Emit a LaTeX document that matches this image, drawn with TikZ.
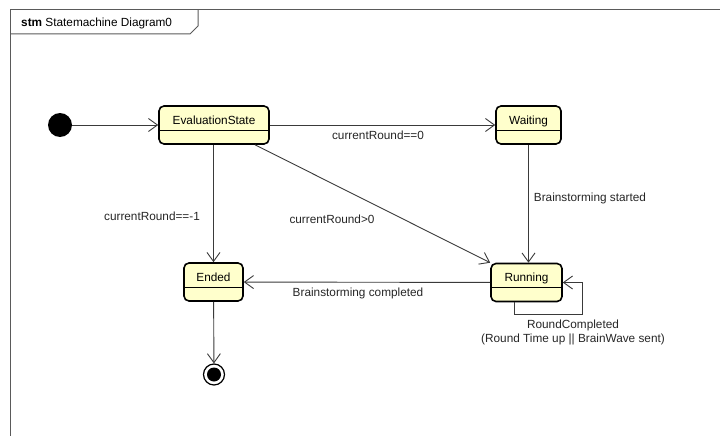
\documentclass[tikz,border=0pt]{standalone}
\usepackage{fontspec}
\setmainfont{Liberation Sans}
\usetikzlibrary{arrows.meta}
\definecolor{statefill}{HTML}{FFFFCC}
\definecolor{framegray}{HTML}{5A5A5A}
\definecolor{edgegray}{HTML}{3A3A3A}

\begin{document}
\begin{tikzpicture}[x=1pt, y=-1pt, font=\fontsize{11.8}{14}\selectfont,
    state/.style={draw=black, line width=1.6pt, fill=statefill, rounded corners=5pt,
        minimum height=38pt, inner sep=0pt, text height=9pt, text depth=11pt,
        path picture={\draw[line width=1pt] ([yshift=-5pt]path picture bounding box.west) -- ([yshift=-5pt]path picture bounding box.east);}},
    tr/.style={draw=edgegray, line width=0.9pt, -{Straight Barb[length=9pt, width=13pt, line width=0.9pt]}},
    lbl/.style={inner sep=1pt, text=black!85}]
    \useasboundingbox (0,0) rectangle (720,436);
    % frame and its tab
    \draw[framegray, line width=1pt] (10,436) -- (10,10) -- (720,10);
    \draw[framegray, line width=1pt] (198,10) -- (198,26) -- (190,34) -- (10,34);
    \node[anchor=west, inner sep=0pt] (title) at (21,23) {\textbf{stm} Statemachine Diagram0};

    \node[circle, fill=black, minimum size=24pt, inner sep=0pt] (start) at (60,125) {};
    \node[state, minimum width=110pt] (eval) at (214,125) {EvaluationState};
    \node[state, minimum width=65pt] (wait) at (528.5,125) {Waiting};
    \node[state, minimum width=59pt] (ended) at (213.5,282) {Ended};
    \node[state, minimum width=71pt] (run) at (526.5,282.5) {Running};
    \node[circle, draw=black, line width=1.2pt, fill=white, minimum size=21pt, inner sep=0pt] (stop) at (214,374.5) {};
    \node[circle, fill=black, minimum size=14pt, inner sep=0pt] at (stop) {};

    \draw[tr] (start) -- (eval);
    \draw[tr] (eval) -- (wait);
    \draw[tr] (ended.north |- eval.south) -- (ended);
    \draw[tr] ([xshift=41pt]eval.south) -- (run.north west);
    \draw[tr] (wait) -- (run.north -| wait.south);
    \draw[tr] (run) -- (ended);
    \draw[tr] ([xshift=-12.5pt]run.south) -- ++(0,12) -| ([xshift=20pt]run.east) -- (run.east);
    \draw[tr] (ended) -- (stop);

    \node[lbl] (l1) at (378,135) {currentRound==0};
    \node[lbl] (l2) at (152,216) {currentRound==-1};
    \node[lbl] (l3) at (332,219) {currentRound>0};
    \node[lbl] (l4) at (590,198) {Brainstorming started};
    \node[lbl] (l5) at (358,293) {Brainstorming completed};
    \node[lbl, align=center] (l6) at (573,332) {RoundCompleted\\(Round Time up || BrainWave sent)};
\end{tikzpicture}
\end{document}
